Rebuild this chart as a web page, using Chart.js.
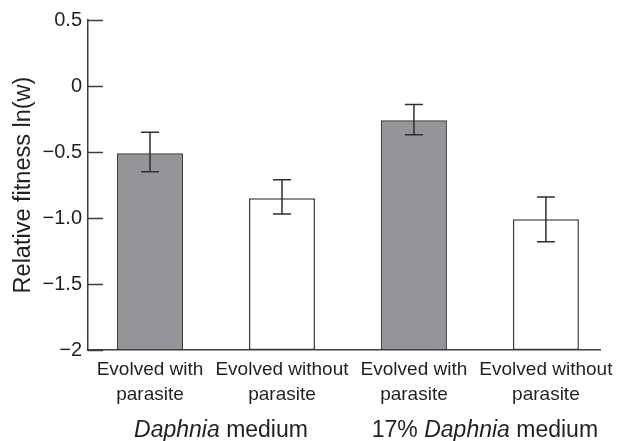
<!DOCTYPE html>
<html>
<head>
<meta charset="utf-8">
<script src="https://cdn.jsdelivr.net/npm/chart.js@4/dist/chart.umd.min.js"></script>
<style>
  html, body { margin: 0; padding: 0; background: #ffffff; }
  #wrap { width: 627px; height: 441px; position: relative; }
</style>
</head>
<body>
<div id="wrap"><canvas id="c" width="627" height="441"></canvas></div>
<script>
// ---- data ----
const categories = [
  ['Evolved with', 'parasite'],
  ['Evolved without', 'parasite'],
  ['Evolved with', 'parasite'],
  ['Evolved without', 'parasite']
];
const evolvedWithParasite = [true, false, true, false];
const fitness = [-0.51, -0.85, -0.26, -1.01];
const errUpper = [-0.35, -0.71, -0.14, -0.84];
const errLower = [-0.65, -0.97, -0.37, -1.18];
const groupLabels = [
  { pre: '', italic: 'Daphnia', post: ' medium' },
  { pre: '17% ', italic: 'Daphnia', post: ' medium' }
];
const groupMembers = [[0, 1], [2, 3]];
const yTickValues = [0.5, 0, -0.5, -1.0, -1.5, -2];
const yTickLabels = ['0.5', '0', '\u22120.5', '\u22121.0', '\u22121.5', '\u22122'];
const yMin = -2, yMax = 0.5;
const yTitle = 'Relative fitness ln(w)';

// ---- styles ----
const FONT = '"Liberation Sans", Arial, Helvetica, sans-serif';
const TEXT = '#231f20';
const AXIS = '#3c3c3c';
const GRAY = '#939598';

const xPositions = categories.map((_, i) => i + 1);

const errorBars = {
  id: 'errorBars',
  afterDatasetsDraw(chart) {
    const { ctx, scales: { x, y } } = chart;
    ctx.save();
    ctx.strokeStyle = '#2e2e2e';
    ctx.lineWidth = 1.5;
    const cap = 9;
    xPositions.forEach((xv, i) => {
      const px = x.getPixelForValue(xv);
      const top = y.getPixelForValue(errUpper[i]);
      const bot = y.getPixelForValue(errLower[i]);
      ctx.beginPath();
      ctx.moveTo(px, top); ctx.lineTo(px, bot);
      ctx.moveTo(px - cap, top); ctx.lineTo(px + cap, top);
      ctx.moveTo(px - cap, bot); ctx.lineTo(px + cap, bot);
      ctx.stroke();
    });
    ctx.restore();
  }
};

const inwardTicks = {
  id: 'inwardTicks',
  afterDraw(chart) {
    const { ctx, scales: { y }, chartArea } = chart;
    ctx.save();
    ctx.strokeStyle = AXIS;
    ctx.lineWidth = 1.5;
    yTickValues.forEach(v => {
      const py = Math.round(y.getPixelForValue(v)) + 0.5;
      ctx.beginPath();
      ctx.moveTo(chartArea.left, py);
      ctx.lineTo(chartArea.left + 15, py);
      ctx.stroke();
    });
    ctx.restore();
  }
};

const groupText = {
  id: 'groupText',
  afterDraw(chart) {
    const { ctx, scales: { x } } = chart;
    ctx.save();
    ctx.fillStyle = TEXT;
    ctx.textBaseline = 'alphabetic';
    const size = 23;
    const normal = size + 'px ' + FONT;
    const ital = 'italic ' + size + 'px ' + FONT;
    groupLabels.forEach((g, gi) => {
      const idx = groupMembers[gi];
      const cx = (x.getPixelForValue(xPositions[idx[0]]) + x.getPixelForValue(xPositions[idx[1]])) / 2 + 5;
      ctx.font = normal; const w1 = ctx.measureText(g.pre).width; const w3 = ctx.measureText(g.post).width;
      ctx.font = ital; const w2 = ctx.measureText(g.italic).width;
      let sx = cx - (w1 + w2 + w3) / 2;
      const by = 437;
      ctx.textAlign = 'left';
      ctx.font = normal; ctx.fillText(g.pre, sx, by); sx += w1;
      ctx.font = ital; ctx.fillText(g.italic, sx, by); sx += w2;
      ctx.font = normal; ctx.fillText(g.post, sx, by);
    });
    ctx.restore();
  }
};

new Chart(document.getElementById('c'), {
  type: 'bar',
  data: {
    datasets: [{
      data: xPositions.map((xv, i) => ({ x: xv, y: [yMin, fitness[i]] })),
      backgroundColor: evolvedWithParasite.map(w => w ? GRAY : '#ffffff'),
      borderColor: '#3a3a3a',
      borderWidth: 1.5,
      borderSkipped: false,
      barPercentage: 0.5,
      categoryPercentage: 1.0
    }]
  },
  options: {
    responsive: false,
    animation: false,
    devicePixelRatio: 1,
    layout: { padding: { top: 20, right: 27, left: 0, bottom: 0 } },
    plugins: { legend: { display: false }, tooltip: { enabled: false } },
    scales: {
      x: {
        type: 'linear',
        offset: false,
        min: 0.53,
        max: 4.41,
        grid: { display: false, drawTicks: false, offset: false },
        border: { display: true, color: AXIS, width: 1.5 },
        afterBuildTicks(scale) { scale.ticks = xPositions.map(v => ({ value: v })); },
        afterFit(scale) { scale.height = 91; },
        ticks: {
          autoSkip: false, maxRotation: 0, minRotation: 0,
          padding: 8,
          color: TEXT,
          font: { family: FONT, size: 19, lineHeight: 1.28 },
          callback: (v) => categories[v - 1]
        }
      },
      y: {
        min: yMin,
        max: yMax,
        grid: { display: false, drawTicks: false },
        border: { display: true, color: AXIS, width: 1.5 },
        afterBuildTicks(scale) { scale.ticks = yTickValues.map(v => ({ value: v })); },
        afterFit(scale) { scale.width = 88; },
        ticks: {
          padding: 6,
          color: TEXT,
          font: { family: FONT, size: 20 },
          callback: (v) => yTickLabels[yTickValues.indexOf(v)]
        },
        title: {
          display: true,
          text: yTitle,
          color: TEXT,
          font: { family: FONT, size: 23.5 },
          padding: { top: 9, bottom: 0 }
        }
      }
    }
  },
  plugins: [errorBars, inwardTicks, groupText]
});
</script>
</body>
</html>
